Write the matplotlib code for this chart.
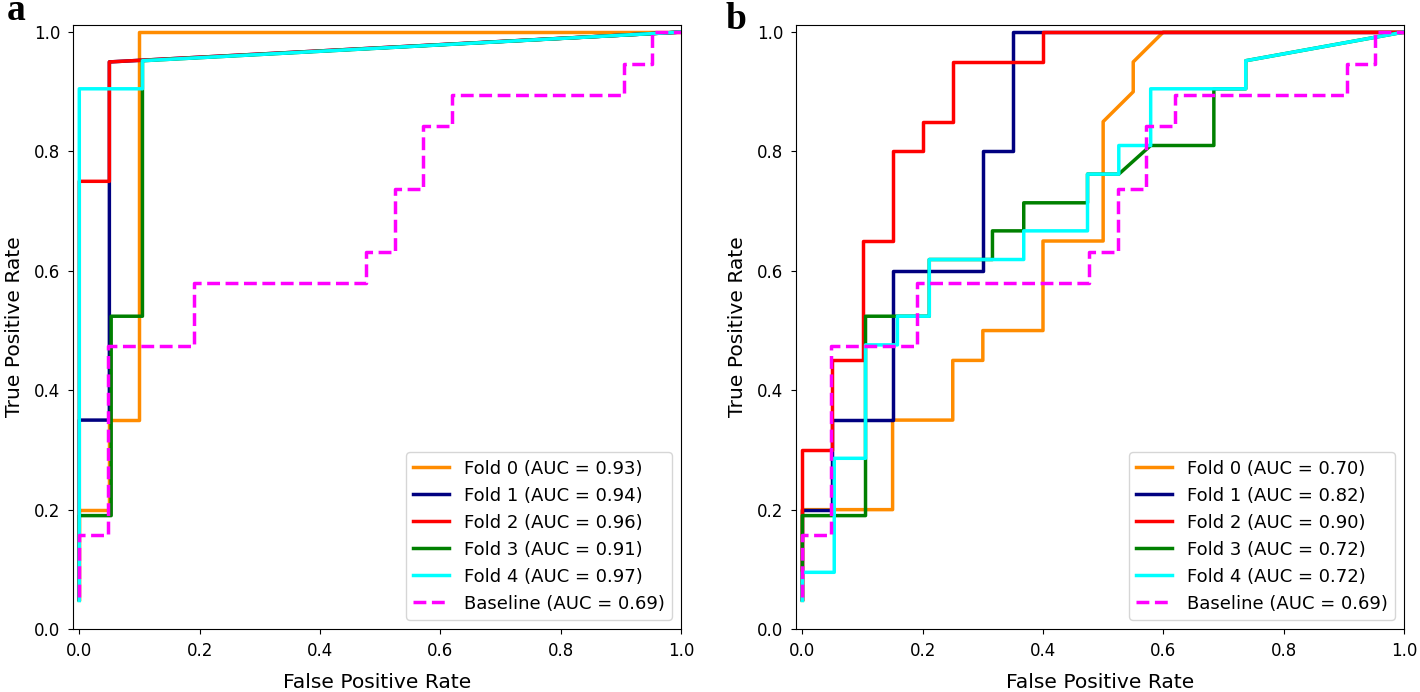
import numpy as np
import matplotlib
matplotlib.use("Agg")
import matplotlib.pyplot as plt

# ROC points (fpr, tpr) per fold
fold_colors = ["darkorange", "navy", "red", "green", "cyan"]

# panel a
a_fpr = [
    [0, 0, 0.05, 0.05, 0.1, 0.1, 1],
    [0, 0, 0.05, 0.05, 1],
    [0, 0, 0.05, 0.05, 1],
    [0, 0, 0.053, 0.053, 0.105, 0.105, 1],
    [0, 0, 0.105, 0.105, 1],
]
a_tpr = [
    [0.05, 0.2, 0.2, 0.35, 0.35, 1, 1],
    [0.05, 0.35, 0.35, 0.95, 1],
    [0.05, 0.75, 0.75, 0.95, 1],
    [0.048, 0.19, 0.19, 0.524, 0.524, 0.952, 1],
    [0.048, 0.905, 0.905, 0.952, 1],
]
a_auc = [0.93, 0.94, 0.96, 0.91, 0.97]

# panel b
b_fpr = [
    [0, 0, 0.15, 0.15, 0.25, 0.25, 0.3, 0.3, 0.4, 0.4, 0.5, 0.5, 0.55, 0.55, 0.6, 1],
    [0, 0, 0.05, 0.05, 0.15, 0.15, 0.3, 0.3, 0.35, 0.35, 1],
    [0, 0, 0.05, 0.05, 0.1, 0.1, 0.15, 0.15, 0.2, 0.2, 0.25, 0.25, 0.4, 0.4, 1],
    [0, 0, 0.105, 0.105, 0.158, 0.211, 0.211, 0.316, 0.316, 0.368, 0.368,
     0.474, 0.474, 0.526, 0.579, 0.684, 0.684, 0.737, 0.737, 1],
    [0, 0, 0.053, 0.053, 0.105, 0.105, 0.158, 0.158, 0.211, 0.211, 0.368,
     0.368, 0.474, 0.474, 0.526, 0.526, 0.579, 0.579, 0.737, 0.737, 1],
]
b_tpr = [
    [0.05, 0.2, 0.2, 0.35, 0.35, 0.45, 0.45, 0.5, 0.5, 0.65, 0.65, 0.85, 0.9, 0.95, 1, 1],
    [0.05, 0.2, 0.2, 0.35, 0.35, 0.6, 0.6, 0.8, 0.8, 1, 1],
    [0.05, 0.3, 0.3, 0.45, 0.45, 0.65, 0.65, 0.8, 0.8, 0.85, 0.85, 0.95, 0.95, 1, 1],
    [0.048, 0.19, 0.19, 0.524, 0.524, 0.524, 0.619, 0.619, 0.667, 0.667, 0.714,
     0.714, 0.762, 0.762, 0.81, 0.81, 0.905, 0.905, 0.952, 1],
    [0.048, 0.095, 0.095, 0.286, 0.286, 0.476, 0.476, 0.524, 0.524, 0.619, 0.619,
     0.667, 0.667, 0.762, 0.762, 0.81, 0.81, 0.905, 0.905, 0.952, 1],
]
b_auc = [0.70, 0.82, 0.90, 0.72, 0.72]

# baseline (same in both panels)
base_fpr = [0, 0, 0.048, 0.048, 0.190, 0.190, 0.476, 0.476, 0.524, 0.524,
            0.571, 0.571, 0.619, 0.619, 0.905, 0.905, 0.952, 0.952, 1]
base_tpr = [0.053, 0.158, 0.158, 0.474, 0.474, 0.579, 0.579, 0.632, 0.632,
            0.737, 0.737, 0.842, 0.842, 0.895, 0.895, 0.947, 0.947, 1, 1]
base_auc = 0.69

ticks = [0.0, 0.2, 0.4, 0.6, 0.8, 1.0]


def plot_roc(ax, fprs, tprs, aucs):
    for i, (f, t) in enumerate(zip(fprs, tprs)):
        ax.plot(f, t, color=fold_colors[i], lw=2.5,
                label='Fold %d (AUC = %0.2f)' % (i, aucs[i]))
    ax.plot(base_fpr, base_tpr, color='magenta', lw=2.5, linestyle='--',
            label='Baseline (AUC = %0.2f)' % base_auc)
    ax.set_xlim([-0.01, 1.0])
    ax.set_ylim([0.0, 1.012])
    ax.set_xticks(ticks)
    ax.set_yticks(ticks)
    ax.tick_params(labelsize=12, pad=6)
    ax.set_xlabel('False Positive Rate', fontsize=14.6, labelpad=9)
    ax.set_ylabel('True Positive Rate', fontsize=14.6, labelpad=7)
    ax.legend(loc='lower right', fontsize=13)


fig, axes = plt.subplots(1, 2, figsize=(14.2, 6.92), dpi=100)
fig.subplots_adjust(left=0.0516, right=0.9887, bottom=0.091, top=0.964,
                    wspace=0.19)

plot_roc(axes[0], a_fpr, a_tpr, a_auc)
plot_roc(axes[1], b_fpr, b_tpr, b_auc)

fig.text(7 / 1420, 1 - 20 / 692, 'a', fontsize=27, fontweight='bold',
         family='Liberation Serif', ha='left', va='baseline')
fig.text(726 / 1420, 1 - 29 / 692, 'b', fontsize=27, fontweight='bold',
         family='Liberation Serif', ha='left', va='baseline')

fig.savefig('out.png', dpi=100)
